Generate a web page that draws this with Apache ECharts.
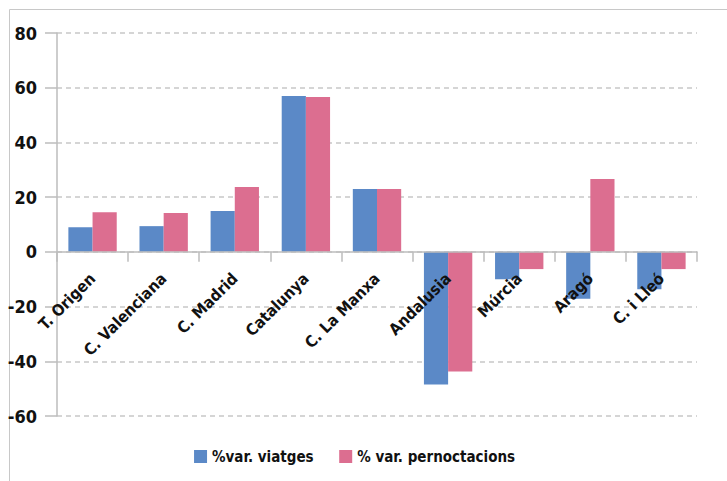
<!DOCTYPE html>
<html>
<head>
<meta charset="utf-8">
<script src="https://cdn.jsdelivr.net/npm/echarts@6/dist/echarts.min.js"></script>
<style>
  html, body { margin: 0; padding: 0; background: #fff; }
  #chart { width: 727px; height: 481px; }
  #chart text { font-stretch: condensed; }
</style>
</head>
<body>
<div id="chart"></div>
<script>
let categories = ['T. Origen', 'C. Valenciana', 'C. Madrid', 'Catalunya', 'C. La Manxa', 'Andalusia', 'Múrcia', 'Aragó', 'C. i Lleó'];
let viatges = [9.0, 9.4, 14.9, 57.0, 23.0, -48.5, -10.0, -17.1, -13.7];
let pernoctacions = [14.5, 14.2, 23.7, 56.6, 23.0, -43.7, -6.3, 26.6, -6.3];
let seriesNames = ['%var. viatges', '% var. pernoctacions'];
let yTicks = [-60, -40, -20, 0, 20, 40, 60, 80];

const font = "'DejaVu Sans', sans-serif";
const gridTop = 33, gridBottom = 65, chartH = 481;

function setChart(){
    let myChart = echarts.init(document.getElementById('chart'), null, { renderer: 'svg' });

    let yMin = yTicks[0];
    let yMax = yTicks[yTicks.length - 1];
    // move the category axis up to the zero line
    let plotH = chartH - gridTop - gridBottom;
    let zeroOffset = plotH * (0 - yMin) / (yMax - yMin);

    let option = {
        animation: false,
        textStyle: { fontFamily: font },
        graphic: [{
            type: 'rect',
            shape: { x: 9.5, y: 9.5, width: 800, height: 600 },
            style: { fill: 'none', stroke: '#c8c8c8', lineWidth: 1 },
            silent: true
        }],
        legend: {
            data: seriesNames,
            bottom: 12,
            left: 'center',
            itemWidth: 13,
            itemHeight: 13,
            itemGap: 14,
            icon: 'rect',
            textStyle: { fontFamily: font, fontWeight: 'bold', fontSize: 15, color: '#111' }
        },
        grid: { left: 57, right: 30, top: gridTop, bottom: gridBottom, outerBoundsMode: 'none' },
        xAxis: {
            type: 'category',
            data: categories,
            offset: -zeroOffset,
            axisLine: { onZero: false, lineStyle: { color: '#bdbdbd', width: 1.5 } },
            axisTick: { show: true, length: 10, lineStyle: { color: '#bdbdbd', width: 1.5 } },
            axisLabel: {
                rotate: 45,
                margin: 24,
                interval: 0,
                fontFamily: font,
                fontWeight: 'bold',
                fontSize: 16,
                color: '#111'
            },
            z: 5
        },
        yAxis: {
            type: 'value',
            min: yMin,
            max: yMax,
            interval: 20,
            axisLine: { show: true, lineStyle: { color: '#bdbdbd', width: 1.5 } },
            axisTick: { show: true, length: 12, lineStyle: { color: '#bdbdbd', width: 1.5 } },
            axisLabel: {
                margin: 20,
                fontFamily: font,
                fontWeight: 'bold',
                fontSize: 18,
                color: '#111'
            },
            splitLine: { lineStyle: { color: '#c8c8c8', type: [5, 4], width: 1.5 } }
        },
        series: [{
            name: seriesNames[0],
            type: 'bar',
            data: viatges,
            barGap: '0%',
            barCategoryGap: '32%',
            itemStyle: { color: '#5b89c7' }
        }, {
            name: seriesNames[1],
            type: 'bar',
            data: pernoctacions,
            itemStyle: { color: '#dc6e90' }
        }]
    };

    myChart.setOption(option);
}

window.onload = function (){
    setChart();
}
</script>
</body>
</html>
